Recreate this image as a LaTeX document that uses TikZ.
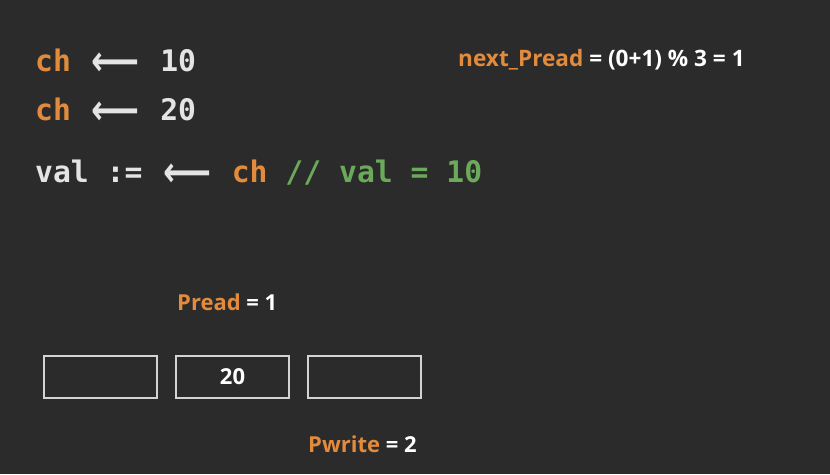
\documentclass[tikz,border=0pt]{standalone}
\usepackage{fontspec}
\setmainfont{Open Sans}
\newfontfamily\codefont{DejaVu Sans Mono}
\newfontfamily\arrfont{DejaVu Sans}
\definecolor{bg}{HTML}{2B2B2B}
\definecolor{orng}{HTML}{E38B3D}
\definecolor{txt}{HTML}{E4E4E4}
\definecolor{grn}{HTML}{6AAA5A}
\definecolor{boxline}{HTML}{D4D4D4}
\newcommand\larr{\makebox[53.6pt]{\raisebox{-4pt}{\scalebox{1}[1.25]{\arrfont\bfseries\fontsize{33.5}{34}\selectfont ⟵}}}}
\tikzset{
  code/.style={anchor=base west, inner sep=0pt, text=txt, font=\codefont\bfseries\fontsize{29.7}{30}\selectfont},
  label/.style={anchor=base west, inner sep=0pt, text=white, font=\bfseries\fontsize{22}{24}\selectfont},
  cell/.style={draw=boxline, line width=2pt, minimum width=113pt, minimum height=42pt, inner sep=0pt, text=white, font=\bfseries\fontsize{22}{24}\selectfont}
}
\begin{document}
\begin{tikzpicture}[x=1pt,y=-1pt]
\fill[bg] (0,0) rectangle (830,474);
\useasboundingbox (0,0) rectangle (830,474);
\node[code] (l1) at (35,71) {\textcolor{orng}{ch} \larr{} 10};
\node[code] (l2) at (35,120) {\textcolor{orng}{ch} \larr{} 20};
\node[code] (l3) at (35,182) {val := \larr{} \textcolor{orng}{ch} \textcolor{grn}{// val = 10}};
\node[label, font=\bfseries\fontsize{22.6}{24}\selectfont] (np) at (458,66) {\textcolor{orng}{next\_Pread} = (0+1) \% 3 = 1};
\node[label] (pr) at (177,310) {\textcolor{orng}{Pread} = 1};
\node[cell] (b1) at (100.5,377) {};
\node[cell] (b2) at (232.5,377) {20};
\node[cell] (b3) at (364.5,377) {};
\node[label] (pw) at (308,452) {\textcolor{orng}{Pwrite} = 2};
\end{tikzpicture}
\end{document}
